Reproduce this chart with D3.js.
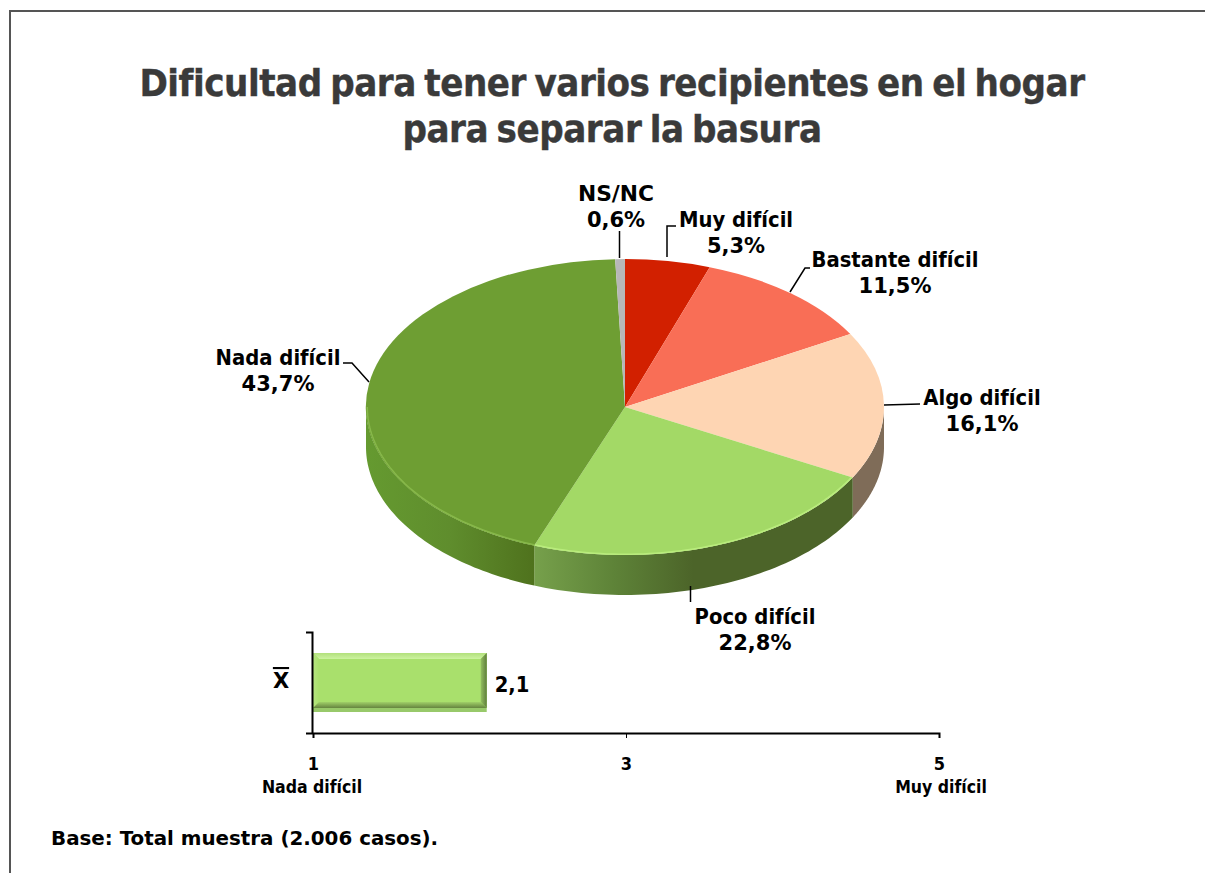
<!DOCTYPE html>
<html>
<head>
<meta charset="utf-8">
<script src="https://cdn.jsdelivr.net/npm/d3@7"></script>
<style>
  body { margin: 0; background: #fff; }
  text { font-family: "DejaVu Sans Condensed", "DejaVu Sans", sans-serif; font-weight: bold; fill: #000; }
  .wide { font-family: "DejaVu Sans", sans-serif; }
</style>
</head>
<body>
<div id="chart"></div>
<script>
// data
const categories = ['Muy difícil', 'Bastante difícil', 'Algo difícil', 'Poco difícil', 'Nada difícil', 'NS/NC'];
const shares = [5.3, 11.5, 16.1, 22.8, 43.7, 0.6];
const meanValue = 2.11;
const axisTicks = [1, 3, 5];
const axisEnds = ['Nada difícil', 'Muy difícil'];
const titleLines = ['Dificultad para tener varios recipientes en el hogar', 'para separar la basura'];
const baseNote = 'Base: Total muestra (2.006 casos).';

// colours, same order as categories
const topColors = ['#d22000', '#f96e56', '#fed5b3', '#a3d966', '#6e9e33', '#b7b7b7'];
const rimColors = ['#d22000', '#f96e56', '#fed5b3', '#b9ec7c', '#87b84a', '#b7b7b7'];
const wallStops = [
  ['#a81a00', '#a81a00'],
  ['#a8493a', '#a8493a'],
  ['#7f6c58', '#7f6c58'],
  ['#76a04b', '#5e8338', '#4c6429', '#4c6429', '#4c6429'],
  ['#659a30', '#5f8d2d', '#4f721d'],
  ['#888888', '#888888']
];

// label boxes and leader lines, same order as categories
const labelPos = [
  { x: 736, y: 227, line: [[667, 257], [667, 226], [676, 226]] },
  { x: 895, y: 267, line: [[790, 292], [805, 268], [810, 268]] },
  { x: 982, y: 405, line: [[884, 405], [920, 404]] },
  { x: 755, y: 624, line: [[690.5, 586], [690.5, 602]] },
  { x: 278, y: 365, line: [[369, 382], [352, 363], [343, 363]] },
  { x: 616, y: 201, line: [[619.5, 231], [619.5, 258]] }
];

const width = 1205;
const height = 873;
const cx = 625, cy = 407, rx = 259, ry = 148, depth = 40;

const svg = d3.select('#chart').append('svg')
  .attr('width', width)
  .attr('height', height)
  .style('display', 'block');

// frame
svg.append('path')
  .attr('d', d3.line()([[10, height], [10, 11], [width, 11]]))
  .attr('fill', 'none')
  .attr('stroke', '#555')
  .attr('stroke-width', 2);

// title
svg.selectAll('.title')
  .data(titleLines)
  .enter()
  .append('text')
  .attr('class', 'title')
  .attr('x', 612)
  .attr('y', (d, i) => 96 + i * 46)
  .attr('text-anchor', 'middle')
  .style('font-size', '38px')
  .style('letter-spacing', '-0.45px')
  .style('word-spacing', '-3px')
  .style('fill', '#3a3a3a')
  .style('stroke', '#3a3a3a')
  .style('stroke-width', 0.4)
  .text(d => d);

// pie
const pieData = d3.pie().sort(null).value(d => d)(shares);
const px = d3.scaleLinear().domain([-1, 1]).range([cx - rx, cx + rx]);
const py = d3.scaleLinear().domain([-1, 1]).range([cy - ry, cy + ry]);
const rimPoints = (a0, a1) => d3.range(0, 61).map(i => a0 + (a1 - a0) * i / 60);

const defs = svg.append('defs');
pieData.forEach((d, i) => {
  const a0 = Math.max(d.startAngle, Math.PI / 2);
  const a1 = Math.min(d.endAngle, Math.PI * 1.5);
  if (a1 <= a0) return;
  const xs = d3.extent(rimPoints(a0, a1), a => px(Math.sin(a)));
  const grad = defs.append('linearGradient')
    .attr('id', 'wall' + i)
    .attr('gradientUnits', 'userSpaceOnUse')
    .attr('x1', xs[0]).attr('x2', xs[1])
    .attr('y1', 0).attr('y2', 0);
  wallStops[i].forEach((c, j) => {
    grad.append('stop')
      .attr('offset', j / (wallStops[i].length - 1))
      .attr('stop-color', c);
  });

  const wall = d3.area()
    .x(a => px(Math.sin(a)))
    .y0(a => py(-Math.cos(a)))
    .y1(a => py(-Math.cos(a)) + depth);
  svg.append('path')
    .attr('d', wall(rimPoints(a0, a1)))
    .attr('fill', 'url(#wall' + i + ')');
});

const arc = d3.arc().innerRadius(0).outerRadius(1);
svg.append('g')
  .attr('transform', 'translate(' + cx + ',' + cy + ') scale(' + rx + ',' + ry + ')')
  .selectAll('path')
  .data(pieData)
  .enter()
  .append('path')
  .attr('d', arc)
  .attr('fill', (d, i) => topColors[i]);

// light rim where the top meets the wall
pieData.forEach((d, i) => {
  const a0 = Math.max(d.startAngle, Math.PI / 2);
  const a1 = Math.min(d.endAngle, Math.PI * 1.5);
  if (a1 <= a0) return;
  const rim = d3.line().x(a => px(Math.sin(a) * 0.995)).y(a => py(-Math.cos(a) * 0.995));
  svg.append('path')
    .attr('d', rim(rimPoints(a0, a1)))
    .attr('fill', 'none')
    .attr('stroke', rimColors[i])
    .attr('stroke-width', 1.5);
});

// leaders and labels
svg.selectAll('.leader')
  .data(labelPos)
  .enter()
  .append('path')
  .attr('class', 'leader')
  .attr('d', d => d3.line()(d.line))
  .attr('fill', 'none')
  .attr('stroke', '#000')
  .attr('stroke-width', 1.5);

const labels = svg.selectAll('.pie-label')
  .data(categories)
  .enter()
  .append('text')
  .attr('class', 'pie-label')
  .attr('text-anchor', 'middle')
  .style('font-size', '21.8px');
labels.append('tspan')
  .attr('class', d => d === 'NS/NC' ? 'wide' : null)
  .attr('x', (d, i) => labelPos[i].x)
  .attr('y', (d, i) => labelPos[i].y)
  .text(d => d);
labels.append('tspan')
  .attr('class', 'wide')
  .attr('x', (d, i) => labelPos[i].x)
  .attr('y', (d, i) => labelPos[i].y + 26)
  .style('font-size', '21px')
  .text((d, i) => String(shares[i]).replace('.', ',') + '%');

// mean bar
const barScale = d3.scaleLinear().domain([1, 5]).range([313, 939]);
const bx0 = barScale(1), bx1 = barScale(meanValue);
const by0 = 653, by1 = 708, barBottom = 712, bev = 6;

svg.append('rect')
  .attr('x', bx0).attr('y', by0)
  .attr('width', bx1 - bx0).attr('height', barBottom - by0)
  .attr('fill', '#98c96a');
svg.append('rect')
  .attr('x', bx0).attr('y', by0)
  .attr('width', bx1 - bx0).attr('height', by1 - by0)
  .attr('fill', '#a9e06c');

const bevel = [
  { id: 'bevT', dir: [0, 1], stops: ['#b2e07c', '#cdf3a0'], p: [[bx0, by0], [bx1, by0], [bx1 - bev, by0 + bev], [bx0 + bev, by0 + bev]] },
  { id: 'bevL', dir: [1, 0], stops: ['#b6e580', '#a9e06c'], p: [[bx0, by0], [bx0 + bev, by0 + bev], [bx0 + bev, by1 - bev], [bx0, by1]] },
  { id: 'bevR', dir: [1, 0], stops: ['#93bf60', '#5f7d3c'], p: [[bx1, by0], [bx1, by1], [bx1 - bev, by1 - bev], [bx1 - bev, by0 + bev]] },
  { id: 'bevB', dir: [0, 1], stops: ['#a0d068', '#65853f'], p: [[bx0, by1], [bx1, by1], [bx1 - bev, by1 - bev], [bx0 + bev, by1 - bev]] }
];
bevel.forEach(b => {
  const g = defs.append('linearGradient')
    .attr('id', b.id)
    .attr('x1', 0).attr('y1', 0)
    .attr('x2', b.dir[0]).attr('y2', b.dir[1]);
  g.append('stop').attr('offset', 0).attr('stop-color', b.stops[0]);
  g.append('stop').attr('offset', 1).attr('stop-color', b.stops[1]);
});
svg.selectAll('.bevel')
  .data(bevel)
  .enter()
  .append('path')
  .attr('class', 'bevel')
  .attr('d', d => d3.line()(d.p) + 'Z')
  .attr('fill', d => 'url(#' + d.id + ')');

svg.append('text')
  .attr('x', bx1 + 8)
  .attr('y', 692)
  .style('font-size', '21.8px')
  .text(d3.format('.1f')(meanValue).replace('.', ','));

svg.append('text')
  .attr('class', 'wide')
  .attr('x', 281)
  .attr('y', 688)
  .attr('text-anchor', 'middle')
  .style('font-size', '21px')
  .style('text-decoration', 'overline')
  .text('X');

// axes
const axisY = 733;
const xAxis = d3.axisBottom(barScale).tickValues(axisTicks).tickSize(5).tickPadding(19).tickFormat(d3.format('d'));
const gx = svg.append('g')
  .attr('transform', 'translate(0,' + axisY + ')')
  .call(xAxis);
gx.select('.domain').attr('stroke', '#000').attr('stroke-width', 2);
gx.selectAll('line').attr('stroke', '#000');
gx.selectAll('text')
  .style('font-size', '18px')
  .attr('fill', null);

const yScale = d3.scaleLinear().domain([0, 1]).range([axisY, 632]);
const gy = svg.append('g')
  .attr('transform', 'translate(312,0)')
  .call(d3.axisLeft(yScale).tickValues([0, 1]).tickSize(6).tickFormat(''));
gy.select('.domain').attr('stroke', '#000').attr('stroke-width', 2);
gy.selectAll('line').attr('stroke', '#000');

svg.selectAll('.end-label')
  .data(axisEnds)
  .enter()
  .append('text')
  .attr('class', 'end-label')
  .attr('x', (d, i) => i === 0 ? 312 : 941)
  .attr('y', 793)
  .attr('text-anchor', 'middle')
  .style('font-size', '17.5px')
  .text(d => d);

svg.append('text')
  .attr('class', 'wide')
  .attr('x', 51)
  .attr('y', 845)
  .style('font-size', '19.85px')
  .text(baseNote);
</script>
</body>
</html>
